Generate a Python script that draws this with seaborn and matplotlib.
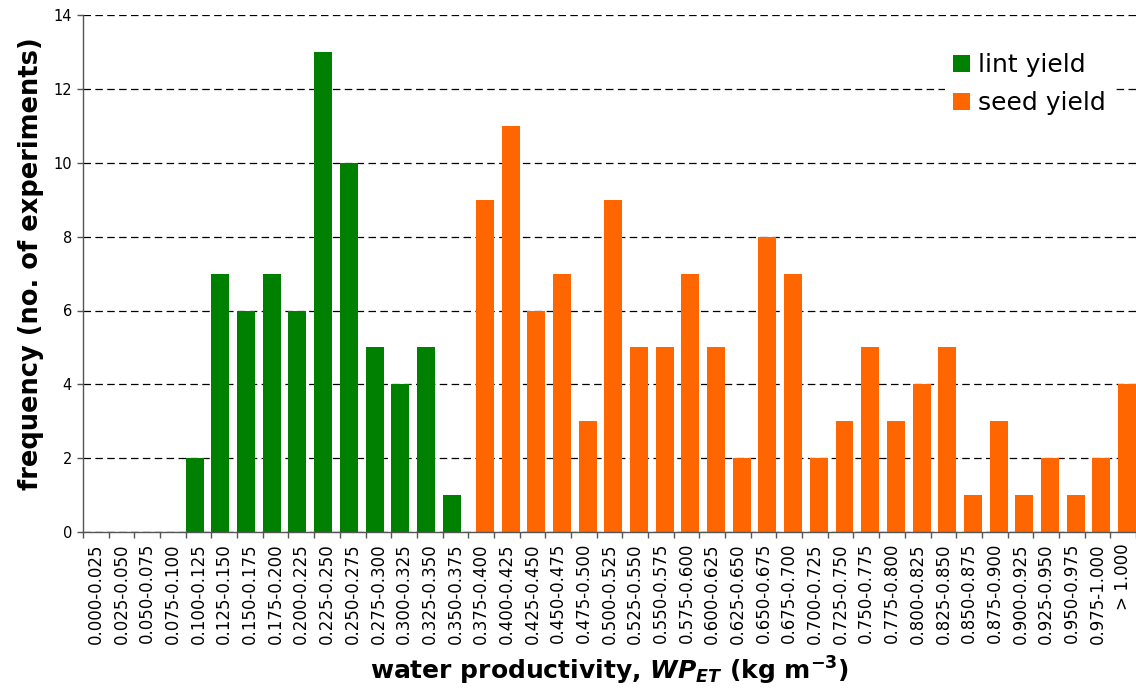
import numpy as np
import matplotlib
matplotlib.use("Agg")
import matplotlib.pyplot as plt
import seaborn as sns

sns.set_theme(style="white")
plt.rcParams["font.family"] = ["DejaVu Sans"]
plt.rcParams["mathtext.fontset"] = "dejavusans"
plt.rcParams["text.color"] = "black"
plt.rcParams["axes.labelcolor"] = "black"
plt.rcParams["xtick.color"] = "black"
plt.rcParams["ytick.color"] = "black"

# bins of water productivity (kg m-3)
bins = [
    "0.000-0.025", "0.025-0.050", "0.050-0.075", "0.075-0.100", "0.100-0.125",
    "0.125-0.150", "0.150-0.175", "0.175-0.200", "0.200-0.225", "0.225-0.250",
    "0.250-0.275", "0.275-0.300", "0.300-0.325", "0.325-0.350", "0.350-0.375",
    "0.375-0.400", "0.400-0.425", "0.425-0.450", "0.450-0.475", "0.475-0.500",
    "0.500-0.525", "0.525-0.550", "0.550-0.575", "0.575-0.600", "0.600-0.625",
    "0.625-0.650", "0.650-0.675", "0.675-0.700", "0.700-0.725", "0.725-0.750",
    "0.750-0.775", "0.775-0.800", "0.800-0.825", "0.825-0.850", "0.850-0.875",
    "0.875-0.900", "0.900-0.925", "0.925-0.950", "0.950-0.975", "0.975-1.000",
    "> 1.000",
]

lint_yield = [0, 0, 0, 0, 2, 7, 6, 7, 6, 13, 10, 5, 4, 5, 1] + [0] * 26
seed_yield = [0] * 15 + [9, 11, 6, 7, 3, 9, 5, 5, 7, 5, 2, 8, 7, 2, 3, 5, 3,
                         4, 5, 1, 3, 1, 2, 1, 2, 4]

GREEN = "#008000"
ORANGE = "#FF6600"

fig = plt.figure(figsize=(11.36, 6.90), dpi=100)
ax = fig.add_axes([0.0731, 0.229, 0.9269, 0.749])

# grid behind bars
ax.set_axisbelow(True)
ax.yaxis.grid(True, color="black", linestyle=(0, (6, 3.5)), linewidth=0.9)

sns.barplot(x=bins, y=lint_yield, color=GREEN, saturation=1, width=0.7,
            linewidth=0, ax=ax, label="lint yield")
sns.barplot(x=bins, y=seed_yield, color=ORANGE, saturation=1, width=0.7,
            linewidth=0, ax=ax, label="seed yield")

# Excel-style cluster offset: lint slightly left, seed slightly right
for bar in ax.containers[0]:
    bar.set_x(bar.get_x() - 0.15)
for bar in ax.containers[1]:
    bar.set_x(bar.get_x() + 0.15)

ax.set_xlim(-0.5, len(bins) - 0.5)
ax.set_ylim(0, 14)
ax.set_yticks(np.arange(0, 15, 2))

ax.set_xticks(range(len(bins)))
ax.set_xticklabels(bins, rotation=90, fontsize=12)
ax.set_xticks(np.arange(-0.5, len(bins)), minor=True)
ax.tick_params(axis="x", which="major", length=0, pad=8)
ax.tick_params(axis="x", which="minor", length=4, width=1, color="#555555",
               direction="out", bottom=True)
ax.tick_params(axis="y", length=4, width=1, color="#555555", direction="out",
               left=True, labelsize=10.5, pad=4)

for side in ["top", "right"]:
    ax.spines[side].set_visible(False)
for side in ["left", "bottom"]:
    ax.spines[side].set_color("#555555")
    ax.spines[side].set_linewidth(1)

ax.set_ylabel("frequency (no. of experiments)", fontsize=18.5,
              fontweight="bold")
ax.yaxis.set_label_coords(-0.037, 0.52)
ax.set_xlabel(r"water productivity, $\mathbfit{WP}_{\mathbfit{ET}}$ (kg m$^{\mathbf{-3}}$)",
              fontsize=18, fontweight="bold", labelpad=8)

leg = ax.legend(loc="upper right", bbox_to_anchor=(0.99, 0.965), frameon=True,
                facecolor="white", edgecolor="none", framealpha=1,
                fontsize=18, handlelength=0.7, handleheight=0.7,
                handletextpad=0.3, labelspacing=0.55, borderpad=0.3)

fig.savefig("out.png", dpi=100)
